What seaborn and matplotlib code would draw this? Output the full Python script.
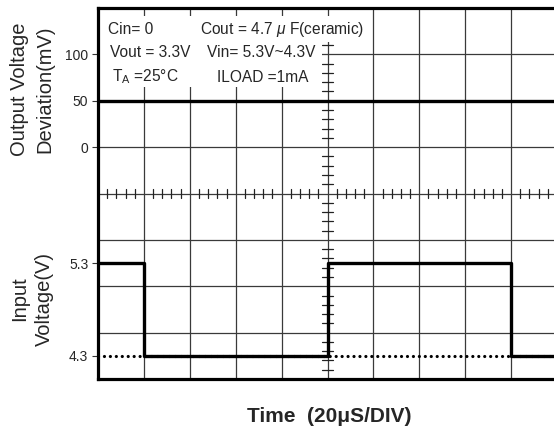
import numpy as np
import pandas as pd
import matplotlib
matplotlib.use("Agg")
import matplotlib.pyplot as plt
from matplotlib.patches import Rectangle
import seaborn as sns

# ---- data ----
time_us = [0, 20, 20, 100, 100, 180, 180, 200]
vin_v = [5.3, 5.3, 4.3, 4.3, 5.3, 5.3, 4.3, 4.3]
vout_time_us = [0, 200]
vout_dev_mv = [50, 50]
vin_low_v = 4.3
upper_ticks_mv = [0, 50, 100]
lower_ticks_v = [4.3, 5.3]
notes = [
    ("Cin= 0", 0.22, 7.54), (r"Cout = 4.7 $\mu$ F(ceramic)", 2.22, 7.54),
    ("Vout = 3.3V", 0.26, 7.03), ("Vin= 5.3V~4.3V", 2.37, 7.03),
    ("T$_{\\rm A}$ =25\u00b0C", 0.30, 6.51), ("ILOAD =1mA", 2.59, 6.51),
]

US_PER_DIV = 20.0
def xdiv(t):
    return np.asarray(t, float) / US_PER_DIV
def ydiv_mv(mv):
    return 5 + np.asarray(mv, float) / 50.0
def ydiv_v(v):
    return 0.5 + (np.asarray(v, float) - 4.3) * 2.0

sns.set_theme(style="white")
plt.rcParams["font.family"] = ["Liberation Sans", "DejaVu Sans"]
plt.rcParams["mathtext.fontset"] = "custom"
plt.rcParams["mathtext.rm"] = "Liberation Sans"
plt.rcParams["mathtext.it"] = "Liberation Sans:italic"

fig = plt.figure(figsize=(5.54, 4.36), dpi=100)
W, H = 554, 436
left, right, top, bottom = 98, 557, 8, 379
ax = fig.add_axes([left / W, 1 - bottom / H, (right - left) / W, (bottom - top) / H])
ax.set_xlim(0, 10)
ax.set_ylim(0, 8)

# grid
for gx in range(1, 10):
    ax.axvline(gx, color="#3a3a3a", lw=0.9, zorder=1)
for gy in range(1, 8):
    ax.axhline(gy, color="#3a3a3a", lw=0.9, zorder=1)
# center ticks
for k in range(1, 50):
    if k % 5:
        ax.plot([k * 0.2, k * 0.2], [4 - 0.1, 4 + 0.1], color="#222", lw=0.9, zorder=1)
for k in range(1, 40):
    if k % 5:
        ax.plot([5 - 0.13, 5 + 0.13], [k * 0.2, k * 0.2], color="#222", lw=0.9, zorder=1)

# white note boxes
ax.add_patch(Rectangle((0.02, 6.29), 4.86, 1.54, facecolor="white", edgecolor="none", zorder=2))
ax.add_patch(Rectangle((4.88, 7.26), 1.07, 0.57, facecolor="white", edgecolor="none", zorder=2))
for txt, x, y in notes:
    ax.text(x, y, txt, fontsize=11.2, va="center", ha="left", zorder=3)

# traces
df_in = pd.DataFrame({"x": xdiv(time_us), "y": ydiv_v(vin_v)})
df_out = pd.DataFrame({"x": xdiv(vout_time_us), "y": ydiv_mv(vout_dev_mv)})
df_low = pd.DataFrame({"x": xdiv([0, 200]), "y": ydiv_v([vin_low_v, vin_low_v])})
sns.lineplot(data=df_low, x="x", y="y", ax=ax, sort=False, estimator=None, color="black",
             lw=2.3, linestyle=(0, (0.01, 1.85)), dash_capstyle="round", zorder=4)
sns.lineplot(data=df_in, x="x", y="y", ax=ax, sort=False, estimator=None, color="black",
             lw=2.4, zorder=5)
sns.lineplot(data=df_out, x="x", y="y", ax=ax, sort=False, estimator=None, color="black",
             lw=2.4, zorder=5)

# frame
for s in ["top", "left", "bottom"]:
    ax.spines[s].set_linewidth(2.3)
    ax.spines[s].set_color("black")
ax.spines["right"].set_visible(False)
ax.set_xticks([])
yt = list(ydiv_v(lower_ticks_v)) + list(ydiv_mv(upper_ticks_mv))
yl = [f"{v:g}" for v in lower_ticks_v] + [f"{v:g}" for v in upper_ticks_mv]
ax.set_yticks(yt)
ax.set_yticklabels(yl, fontsize=10)
ax.tick_params(axis="y", direction="out", length=4, width=0.8, color="#333", pad=3, left=True)
ax.set_xlabel("")
ax.set_ylabel("")

fig.text(32.5 / W, 1 - 89 / H, "Output Voltage\nDeviation(mV)", rotation=90, ha="center",
         va="center", multialignment="center", fontsize=14.5, linespacing=1.4)
fig.text(32 / W, 1 - 299 / H, "Input\nVoltage(V)", rotation=90, ha="center",
         va="center", multialignment="center", fontsize=14.5, linespacing=1.4)
fig.text(329 / W, 1 - 416 / H, "Time  (20\u03bcS/DIV)", ha="center", va="center",
         fontsize=15, fontweight="bold")

fig.savefig("out.png", dpi=100)
